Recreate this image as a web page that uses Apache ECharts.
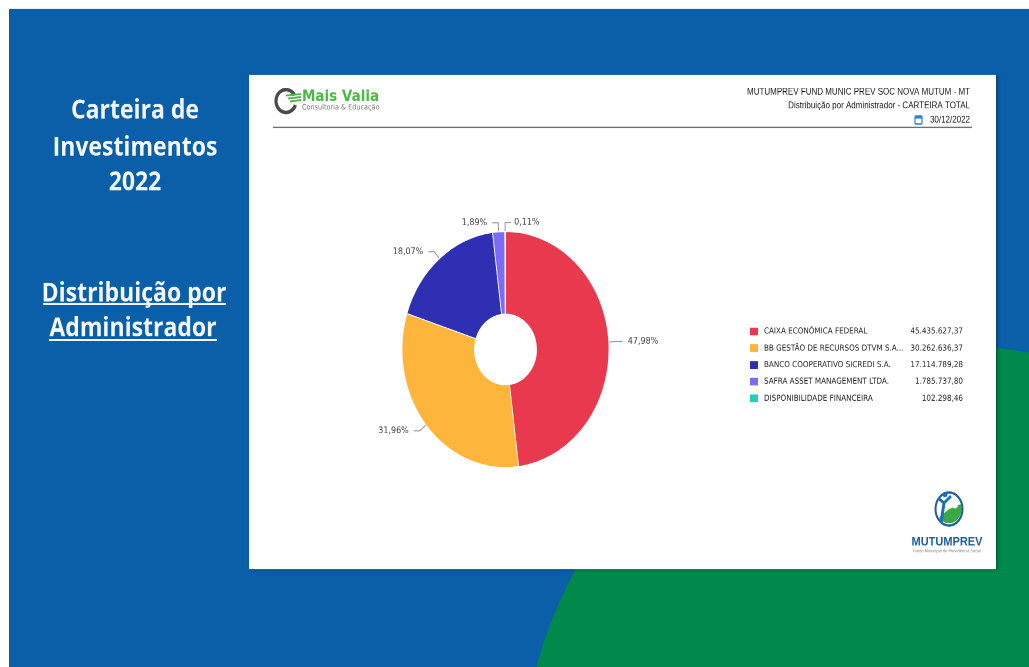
<!DOCTYPE html>
<html>
<head>
<meta charset="utf-8">
<script src="https://cdn.jsdelivr.net/npm/echarts@6/dist/echarts.min.js"></script>
<style>
html,body{margin:0;padding:0;background:#fff;width:1029px;height:667px;overflow:hidden;}
#c{width:1029px;height:585.09px;transform:scaleY(1.14);transform-origin:0 0;}
</style>
</head>
<body>
<div id="c"></div>
<script>
// ---- data ----
const categories = [
  'CAIXA ECONÔMICA FEDERAL',
  'BB GESTÃO DE RECURSOS DTVM S.A...',
  'BANCO COOPERATIVO SICREDI S.A.',
  'SAFRA ASSET MANAGEMENT LTDA.',
  'DISPONIBILIDADE FINANCEIRA'
];
const values = [45435627.37, 30262636.37, 17114789.28, 1785737.80, 102298.46];
const colors = ['#e8394f', '#fdb53c', '#2e2fb3', '#7b6cf5', '#22d1b5'];
const headerLines = [
  'MUTUMPREV FUND MUNIC PREV SOC NOVA MUTUM - MT',
  'Distribuição por Administrador - CARTEIRA TOTAL',
  '30/12/2022'
];
const sideTitle = ['Carteira de', 'Investimentos', '2022'];
const sideSubtitle = ['Distribuição por', 'Administrador'];

// ---- helpers ----
const S = 1.14;
const H = 667 / S;
const Y = v => v / S;
const total = values.reduce((a, b) => a + b, 0);
function fmt(v) {
  const parts = v.toFixed(2).split('.');
  return parts[0].replace(/\B(?=(\d{3})+(?!\d))/g, '.') + ',' + parts[1];
}

const chart = echarts.init(document.getElementById('c'), null, {width: 1029, height: H, devicePixelRatio: 2});

const hdrFont = "'Liberation Sans', Arial, sans-serif";
const sideFont = "'Open Sans', 'Noto Sans', sans-serif";

const g = [
  {type: 'rect', shape: {x: 0, y: 0, width: 1029, height: H}, style: {fill: '#ffffff'}},
  {type: 'rect', shape: {x: 9, y: Y(9), width: 1020, height: H}, style: {fill: '#0a5fa8'}},
  {type: 'ellipse', shape: {cx: 954, cy: Y(778), rx: 432, ry: 432 / S}, style: {fill: '#00894b'}},
  {type: 'rect', shape: {x: 249, y: Y(75), width: 747, height: Y(569) - Y(75)},
   style: {fill: '#ffffff', shadowBlur: 3, shadowColor: 'rgba(0,0,0,0.35)', shadowOffsetX: 1.5, shadowOffsetY: 0.5}}
];
// side titles
[111, 148, 183].forEach((yy, i) => {
  g.push({type: 'text', x: 135, y: Y(yy), style: {text: sideTitle[i], fill: '#f4f7fb', fontSize: 23, fontWeight: 'bold', fontFamily: sideFont, align: 'center', verticalAlign: 'middle'}});
});
g.push({type: 'text', x: 134, y: Y(294), style: {text: sideSubtitle[0], fill: '#f4f7fb', fontSize: 23, fontWeight: 'bold', fontFamily: sideFont, align: 'center', verticalAlign: 'middle'}});
g.push({type: 'text', x: 133, y: Y(329), style: {text: sideSubtitle[1], fill: '#f4f7fb', fontSize: 23, fontWeight: 'bold', fontFamily: sideFont, align: 'center', verticalAlign: 'middle'}});
g.push({type: 'line', shape: {x1: 43, y1: Y(304), x2: 226, y2: Y(304)}, style: {stroke: '#f4f7fb', lineWidth: 1.6}});
g.push({type: 'line', shape: {x1: 49, y1: Y(340), x2: 217, y2: Y(340)}, style: {stroke: '#f4f7fb', lineWidth: 1.6}});

// header texts
[92, 106, 120].forEach((yy, i) => {
  g.push({type: 'text', x: 970, y: Y(yy), style: {text: headerLines[i], fill: '#1a1a1a', fontSize: 8, fontFamily: hdrFont, align: 'right', verticalAlign: 'middle'}});
});
// calendar icon
g.push({type: 'rect', shape: {x: 915, y: Y(116), width: 7, height: Y(124) - Y(116), r: 1}, style: {fill: '#fff', stroke: '#2f80d8', lineWidth: 1.2}});
g.push({type: 'rect', shape: {x: 915, y: Y(116), width: 7, height: Y(118.5) - Y(116)}, style: {fill: '#2f80d8'}});
// header rule
g.push({type: 'line', shape: {x1: 273, y1: Y(127.5), x2: 972, y2: Y(127.5)}, style: {stroke: '#6f6f6f', lineWidth: 1.4}});

// Mais Valia logo
g.push({type: 'arc', shape: {cx: 286, cy: Y(101), r: 10, startAngle: -0.55, endAngle: 0.35, clockwise: false}, style: {stroke: '#4a4a4a', lineWidth: 3.2, fill: null}});
[95.5, 98.5, 101.5].forEach((yy, i) => {
  g.push({type: 'line', shape: {x1: 286 + i * 2, y1: Y(yy), x2: 301, y2: Y(yy - 1.5)}, style: {stroke: '#4cb848', lineWidth: 1.6}});
});
g.push({type: 'text', x: 302, y: Y(97), style: {text: 'Mais Valia', fill: '#4cb848', fontSize: 13.5, fontWeight: 'bold', fontFamily: "'DejaVu Sans', sans-serif", align: 'left', verticalAlign: 'middle'}});
g.push({type: 'text', x: 302, y: Y(107.5), style: {text: 'Consultoria & Educação', fill: '#777', fontSize: 6.5, fontFamily: "'DejaVu Sans', sans-serif", align: 'left', verticalAlign: 'middle'}});

// MUTUMPREV logo
g.push({type: 'sector', shape: {cx: 949, cy: Y(509), r0: 0, r: 12.5, startAngle: -0.35, endAngle: 2.5, clockwise: true}, style: {fill: '#3aa845'}});
g.push({type: 'ellipse', shape: {cx: 949, cy: Y(509), rx: 13.5, ry: 16.5 / S}, style: {fill: null, stroke: '#1f5d9e', lineWidth: 2}});
g.push({type: 'circle', shape: {cx: 955, cy: Y(505), r: 3}, style: {fill: '#fff'}});
g.push({type: 'polyline', shape: {points: [[938, Y(498)], [944, Y(503)], [951, Y(496)]]}, style: {stroke: '#1f6fb8', lineWidth: 2.6, fill: null}});
g.push({type: 'polyline', shape: {points: [[944, Y(503)], [941, Y(523)]]}, style: {stroke: '#1f6fb8', lineWidth: 3, fill: null}});
g.push({type: 'circle', shape: {cx: 945, cy: Y(494.5), r: 2.4}, style: {fill: '#1f6fb8'}});
g.push({type: 'text', x: 947, y: Y(542), style: {text: 'MUTUMPREV', fill: '#1c5fa6', fontSize: 11, fontWeight: 'bold', fontFamily: hdrFont, align: 'center', verticalAlign: 'middle'}});
g.push({type: 'text', x: 947, y: Y(551), style: {text: 'Fundo Municipal de Previdência Social', fill: '#777', fontSize: 3.6, fontFamily: "'DejaVu Sans', sans-serif", align: 'center', verticalAlign: 'middle'}});

const option = {
  animation: false,
  graphic: {elements: g},
  color: colors,
  legend: {
    orient: 'vertical',
    left: 748,
    top: Y(331) - 5,
    padding: 0,
    itemWidth: 10,
    itemHeight: 10 / S,
    itemGap: 3.9,
    icon: 'rect',
    selectedMode: false,
    data: categories.map(c => ({name: c, icon: 'rect'})),
    formatter: function (name) {
      const i = categories.indexOf(name);
      return '{n|' + name + '}{v|' + fmt(values[i]) + '}';
    },
    textStyle: {
      fontFamily: "'DejaVu Sans', sans-serif",
      fontSize: 7.2,
      color: '#262626',
      lineHeight: 10,
      rich: {
        n: {width: 143, fontSize: 7.2, color: '#262626', fontFamily: "'DejaVu Sans', sans-serif", lineHeight: 10},
        v: {width: 56, align: 'right', fontSize: 7.2, color: '#262626', fontFamily: "'DejaVu Sans', sans-serif", lineHeight: 10}
      }
    }
  },
  series: [{
    type: 'pie',
    center: [505.5, Y(349.5)],
    radius: [31, 103.5],
    startAngle: 90,
    clockwise: true,
    avoidLabelOverlap: false,
    itemStyle: {borderColor: '#ffffff', borderWidth: 0.8},
    label: {
      show: true,
      position: 'outside',
      fontSize: 8,
      fontFamily: "'DejaVu Sans', sans-serif",
      color: '#444',
      formatter: p => (p.value / total * 100).toFixed(2).replace('.', ',') + '%'
    },
    labelLine: {show: true, length: 8, length2: 6, lineStyle: {color: '#9a9a9a', width: 1}},
    labelLayout: function (p) {
      if (p.dataIndex !== 4 || !p.labelLinePoints) return {};
      const pts = p.labelLinePoints;
      const bend = pts[1];
      const end = [2 * bend[0] - pts[2][0], pts[2][1]];
      return {
        x: end[0] + 3,
        y: p.labelRect.y + p.labelRect.height / 2,
        align: 'left',
        verticalAlign: 'middle',
        labelLinePoints: [pts[0], bend, end]
      };
    },
    emphasis: {disabled: true},
    data: categories.map((c, i) => ({name: c, value: values[i]}))
  }]
};
chart.setOption(option);
</script>
</body>
</html>
